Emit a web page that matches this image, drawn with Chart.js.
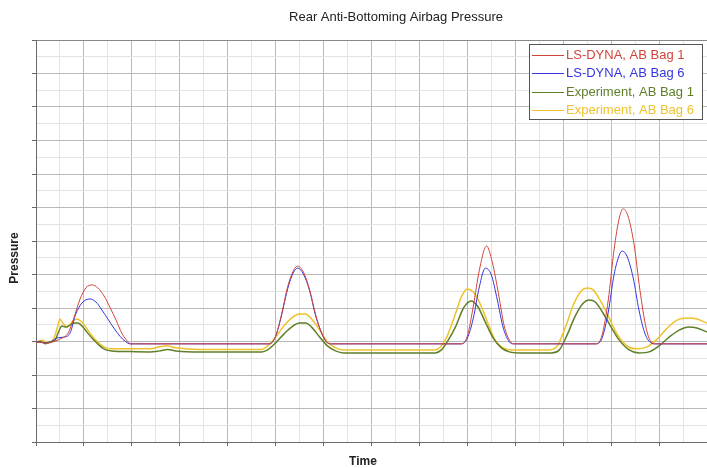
<!DOCTYPE html>
<html>
<head>
<meta charset="utf-8">
<script src="https://cdn.jsdelivr.net/npm/chart.js@4.4.1/dist/chart.umd.min.js"></script>
<style>
  body { margin: 0; background: #fff; }
  canvas { display: block; }
</style>
</head>
<body>
<canvas id="myChart" width="707" height="468"></canvas>
<script>
// data (x in grid units of time, y in grid units of pressure)
const dynaBag1Time = [0, 1.9, 4.0, 5.4, 6.7, 7.9, 9.2, 10.4, 11.7, 12.9, 14.2, 15.4, 16.7, 17.9, 19.2, 19.8,
  48.75, 50.0, 51.25, 52.5, 53.75, 54.6, 55.8, 57.1, 58.3, 59.6, 60.8, 61.7,
  88.75, 90.0, 91.25, 92.5, 94.0, 95.2, 96.5, 97.7, 99.0, 99.8,
  116.9, 118.1, 119.4, 120.6, 121.7, 122.5, 123.5, 124.8, 126.0, 127.3, 128.3, 129.2, 140];
const dynaBag1Pressure = [2.99, 2.96, 3.01, 3.10, 3.25, 3.70, 4.27, 4.60, 4.69, 4.60, 4.36, 4.03, 3.64, 3.25, 2.99, 2.93,
  2.93, 3.16, 3.82, 4.63, 5.13, 5.25, 5.07, 4.54, 3.82, 3.25, 2.96, 2.93,
  2.93, 3.16, 4.06, 5.13, 5.85, 5.37, 4.42, 3.46, 2.99, 2.93,
  2.93, 3.19, 4.24, 5.73, 6.69, 6.96, 6.75, 5.88, 4.54, 3.40, 2.99, 2.93, 2.93];

const dynaBag6Time = [0, 2.9, 4.2, 5.8, 7.1, 8.3, 9.6, 11.25, 12.5, 13.75, 15.0, 16.25, 17.5, 18.75, 19.6,
  48.75, 50.0, 51.25, 52.5, 53.75, 54.6, 55.8, 57.1, 58.3, 59.6, 60.8, 61.7,
  88.75, 90.0, 91.25, 92.5, 93.75, 95.0, 96.25, 97.5, 98.75, 99.6,
  116.9, 118.1, 119.4, 120.6, 121.7, 122.3, 123.3, 124.6, 125.8, 127.1, 128.3, 129.2, 140];
const dynaBag6Pressure = [2.99, 2.96, 3.10, 3.13, 3.25, 3.82, 4.15, 4.27, 4.18, 3.94, 3.67, 3.40, 3.16, 2.99, 2.93,
  2.93, 3.16, 3.79, 4.57, 5.07, 5.19, 5.01, 4.51, 3.79, 3.25, 2.96, 2.93,
  2.93, 3.10, 3.70, 4.63, 5.19, 4.99, 4.24, 3.40, 2.99, 2.93,
  2.93, 3.10, 3.88, 4.99, 5.58, 5.70, 5.55, 4.90, 3.94, 3.22, 2.96, 2.93, 2.93];

const testBag1Time = [0, 0.8, 1.9, 2.9, 4.0, 4.6, 5.4, 6.25, 7.1, 7.9, 8.75, 9.8, 10.8, 12.1, 13.3, 14.6, 15.8,
  19.6, 23.75, 25.8, 27.5, 29.2, 34.2, 47.1, 48.3, 50.0, 51.7, 53.3, 55.0, 56.25, 57.5, 59.2, 60.8, 62.5, 64.2,
  83.3, 84.6, 85.8, 87.5, 89.2, 90.8, 92.1, 93.75, 95.4, 97.1, 98.75, 100.8,
  107.5, 109.2, 110.8, 112.5, 114.2, 115.4, 116.7, 118.3, 120.0, 121.7, 123.75, 125.8, 127.9,
  130.0, 132.1, 134.2, 136.25, 137.9, 140];
const testBag1Pressure = [2.96, 3.01, 2.93, 2.99, 3.04, 3.25, 3.46, 3.43, 3.49, 3.55, 3.55, 3.43, 3.25, 3.04, 2.87, 2.75, 2.72,
  2.70, 2.69, 2.72, 2.76, 2.72, 2.69, 2.69, 2.75, 2.96, 3.22, 3.43, 3.55, 3.55, 3.43, 3.13, 2.87, 2.72, 2.66,
  2.66, 2.75, 2.99, 3.43, 4.00, 4.21, 4.06, 3.58, 3.10, 2.81, 2.69, 2.66,
  2.66, 2.75, 3.19, 3.76, 4.15, 4.24, 4.18, 3.85, 3.43, 3.04, 2.75, 2.66, 2.69,
  2.87, 3.13, 3.34, 3.43, 3.40, 3.28];

const testBag6Time = [0, 1.25, 2.5, 3.75, 4.6, 5.0, 5.6, 6.5, 7.5, 8.5, 9.6, 10.8, 12.1, 13.3, 14.6, 15.8,
  23.75, 25.8, 27.3, 29.2, 34.2, 47.1, 48.3, 50.0, 51.7, 53.3, 55.0, 56.25, 57.5, 59.2, 60.8, 62.5, 64.2,
  83.3, 84.6, 85.8, 87.5, 88.75, 90.0, 91.25, 92.5, 94.2, 95.8, 97.5, 99.2,
  107.1, 108.75, 110.4, 112.1, 113.75, 115.0, 116.25, 117.9, 119.6, 121.25, 123.3, 125.2, 127.5,
  129.6, 131.7, 133.75, 136.25, 137.9, 140];
const testBag6Pressure = [2.96, 3.04, 2.96, 3.10, 3.49, 3.67, 3.55, 3.43, 3.58, 3.67, 3.58, 3.34, 3.10, 2.93, 2.81, 2.78,
  2.78, 2.84, 2.87, 2.81, 2.76, 2.76, 2.87, 3.13, 3.46, 3.70, 3.82, 3.82, 3.67, 3.34, 2.99, 2.81, 2.75,
  2.75, 2.87, 3.16, 3.82, 4.33, 4.57, 4.48, 4.18, 3.58, 3.04, 2.81, 2.75,
  2.75, 2.87, 3.40, 4.09, 4.51, 4.60, 4.54, 4.18, 3.70, 3.22, 2.87, 2.78, 2.84,
  3.07, 3.40, 3.64, 3.70, 3.67, 3.55];

const seriesNames = ['LS-DYNA, AB Bag 1', 'LS-DYNA, AB Bag 6', 'Experiment, AB Bag 1', 'Experiment, AB Bag 6'];
const seriesColors = ['#d0453a', '#3535e0', '#5f7f28', '#efc22a'];

const FONT = '"Liberation Sans", Arial, sans-serif';

function toPoints(xs, ys) {
  return xs.map((x, i) => ({ x: x, y: ys[i] }));
}

// titles and the boxed legend are painted by hand
const textPlugin = {
  id: 'texts',
  afterDraw(chart) {
    const ctx = chart.ctx;
    ctx.save();
    ctx.fillStyle = '#222';
    ctx.textAlign = 'center';
    ctx.textBaseline = 'middle';
    ctx.font = '13px ' + FONT;
    ctx.fillText('Rear Anti-Bottoming Airbag Pressure', 396, 17);
    ctx.font = 'bold 12px ' + FONT;
    ctx.fillText('Time', 363, 462);
    ctx.translate(15, 258);
    ctx.rotate(-Math.PI / 2);
    ctx.fillText('Pressure', 0, 0);
    ctx.restore();

    // legend box
    ctx.save();
    ctx.fillStyle = '#fff';
    ctx.fillRect(529.5, 44.5, 173, 75);
    ctx.strokeStyle = '#555';
    ctx.lineWidth = 1;
    ctx.strokeRect(529.5, 44.5, 173, 75);
    ctx.font = '13px ' + FONT;
    ctx.textBaseline = 'middle';
    ctx.textAlign = 'left';
    const rows = [55, 73, 92, 110];
    seriesNames.forEach((name, i) => {
      const y = rows[i] + 0.5;
      ctx.beginPath();
      ctx.strokeStyle = seriesColors[i];
      ctx.lineWidth = 1;
      ctx.moveTo(532, y);
      ctx.lineTo(564, y);
      ctx.stroke();
      ctx.fillStyle = seriesColors[i];
      ctx.fillText(name, 566, rows[i]);
    });
    ctx.restore();
  }
};

const gridColor = (ctx) => (Math.abs(ctx.tick.value % 10) < 1e-6 ? '#b9b9b9' : '#e3e3e3');
const yGridColor = (ctx) => {
  if (ctx.tick.value === 12) return '#888';
  return Math.abs(ctx.tick.value % 1) < 1e-6 ? '#b9b9b9' : '#e3e3e3';
};

const ctx = document.getElementById('myChart').getContext('2d');
const myChart = new Chart(ctx, {
  type: 'line',
  data: {
    datasets: [
      { label: seriesNames[0], data: toPoints(dynaBag1Time, dynaBag1Pressure), borderColor: seriesColors[0], borderWidth: 1 },
      { label: seriesNames[1], data: toPoints(dynaBag6Time, dynaBag6Pressure), borderColor: seriesColors[1], borderWidth: 1 },
      { label: seriesNames[2], data: toPoints(testBag1Time, testBag1Pressure), borderColor: seriesColors[2], borderWidth: 1.5 },
      { label: seriesNames[3], data: toPoints(testBag6Time, testBag6Pressure), borderColor: seriesColors[3], borderWidth: 1.5 },
    ],
  },
  options: {
    responsive: false,
    animation: false,
    layout: { padding: { left: 32, top: 40, right: 0, bottom: 22 } },
    elements: {
      point: { radius: 0 },
      line: { tension: 0.4, cubicInterpolationMode: 'monotone', fill: false },
    },
    plugins: {
      legend: { display: false },
      title: { display: false },
      tooltip: { enabled: false },
    },
    scales: {
      x: {
        type: 'linear',
        min: 0,
        max: 140,
        ticks: { stepSize: 5, display: false },
        grid: {
          color: gridColor,
          tickColor: (c) => (Math.abs(c.tick.value % 10) < 1e-6 ? '#666' : 'transparent'),
          tickLength: 4,
        },
        border: { color: '#6a6a6a', width: 1 },
      },
      y: {
        min: 0,
        max: 12,
        ticks: { stepSize: 0.5, display: false },
        grid: {
          color: yGridColor,
          tickColor: (c) => (Math.abs(c.tick.value % 1) < 1e-6 ? '#666' : 'transparent'),
          tickLength: 4,
        },
        border: { color: '#6a6a6a', width: 1 },
      },
    },
  },
  plugins: [textPlugin],
});
</script>
</body>
</html>
